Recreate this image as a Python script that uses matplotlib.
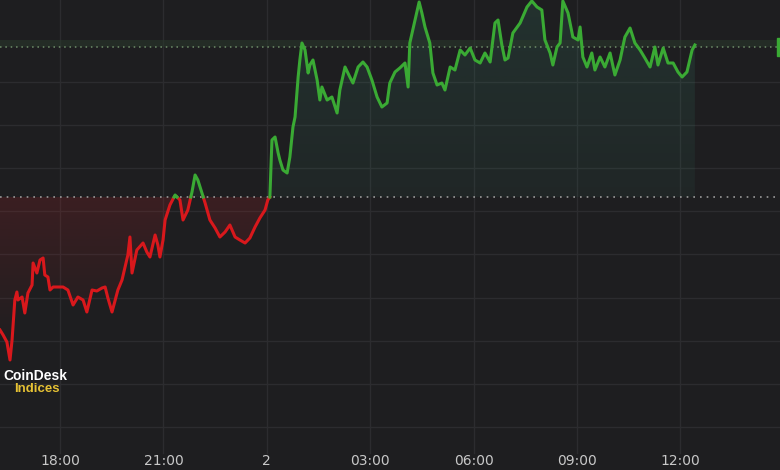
import numpy as np
import matplotlib
matplotlib.use("Agg")
import matplotlib.pyplot as plt
from matplotlib.path import Path
from matplotlib.colors import to_rgb
from matplotlib.patches import Rectangle
import matplotlib.transforms as mtransforms

# hours after 18:00 on day 1, and % change against the open
hours = [
    -1.74, -1.65, -1.54, -1.45, -1.39, -1.31, -1.25, -1.22, -1.10, -1.02,
    -0.93, -0.81, -0.78, -0.67, -0.58, -0.49, -0.44, -0.35, -0.29, -0.20,
    -0.15, 0.00, 0.09, 0.23, 0.38, 0.52, 0.67, 0.78, 0.93, 1.07,
    1.22, 1.31, 1.39, 1.51, 1.68, 1.80, 1.89, 1.97, 2.03, 2.09,
    2.23, 2.41, 2.52, 2.61, 2.76, 2.84, 2.90, 2.99, 3.05, 3.19,
    3.34, 3.48, 3.57, 3.71, 3.83, 3.92, 4.00, 4.12, 4.21, 4.35,
    4.50, 4.64, 4.79, 4.93, 5.08, 5.22, 5.37, 5.51, 5.66, 5.80,
    5.95, 6.03, 6.09, 6.15, 6.24, 6.33, 6.38, 6.47, 6.59, 6.67,
    6.76, 6.82, 6.91, 6.96, 7.02, 7.11, 7.20, 7.25, 7.34, 7.46,
    7.54, 7.60, 7.75, 7.89, 8.04, 8.12, 8.27, 8.41, 8.50, 8.65,
    8.79, 8.91, 9.05, 9.20, 9.34, 9.49, 9.57, 9.72, 9.86, 10.01,
    10.10, 10.15, 10.30, 10.42, 10.50, 10.59, 10.73, 10.82, 10.94, 11.08,
    11.17, 11.32, 11.46, 11.61, 11.75, 11.90, 12.04, 12.19, 12.33, 12.48,
    12.62, 12.71, 12.82, 12.91, 13.00, 13.14, 13.35, 13.55, 13.69, 13.84,
    13.98, 14.07, 14.22, 14.30, 14.42, 14.51, 14.59, 14.74, 14.88, 15.03,
    15.09, 15.17, 15.29, 15.43, 15.52, 15.67, 15.81, 15.96, 16.10, 16.25,
    16.39, 16.54, 16.68, 16.83, 16.97, 17.12, 17.26, 17.35, 17.50, 17.64,
    17.79, 17.93, 18.05, 18.19, 18.34, 18.42,
]
change = [
    -1.33, -1.38, -1.45, -1.63, -1.43, -1.03, -0.95, -1.03, -1.00, -1.16,
    -0.96, -0.88, -0.66, -0.76, -0.63, -0.61, -0.78, -0.80, -0.93, -0.90,
    -0.90, -0.90, -0.90, -0.93, -1.08, -1.00, -1.03, -1.15, -0.93, -0.94,
    -0.91, -0.90, -1.01, -1.15, -0.93, -0.83, -0.70, -0.58, -0.40, -0.76,
    -0.53, -0.46, -0.55, -0.60, -0.38, -0.48, -0.60, -0.43, -0.23, -0.08,
    0.02, -0.03, -0.23, -0.13, 0.05, 0.22, 0.17, 0.04, -0.06, -0.23,
    -0.31, -0.40, -0.35, -0.28, -0.40, -0.43, -0.46, -0.41, -0.30, -0.21,
    -0.13, -0.03, 0.00, 0.57, 0.60, 0.44, 0.37, 0.27, 0.24, 0.40,
    0.70, 0.80, 1.20, 1.37, 1.54, 1.47, 1.24, 1.32, 1.37, 1.17,
    0.97, 1.10, 0.97, 1.00, 0.84, 1.07, 1.30, 1.20, 1.14, 1.30,
    1.35, 1.30, 1.17, 1.00, 0.90, 0.94, 1.14, 1.25, 1.29, 1.34,
    1.10, 1.54, 1.77, 1.95, 1.84, 1.70, 1.54, 1.24, 1.12, 1.14,
    1.07, 1.30, 1.27, 1.47, 1.42, 1.49, 1.37, 1.34, 1.44, 1.35,
    1.74, 1.77, 1.52, 1.37, 1.39, 1.64, 1.74, 1.90, 1.96, 1.90,
    1.87, 1.57, 1.44, 1.32, 1.50, 1.54, 1.96, 1.84, 1.60, 1.57,
    1.70, 1.40, 1.30, 1.44, 1.27, 1.40, 1.30, 1.44, 1.22, 1.37,
    1.60, 1.69, 1.54, 1.47, 1.39, 1.30, 1.50, 1.32, 1.49, 1.34,
    1.34, 1.25, 1.20, 1.25, 1.47, 1.52,
]
tick_hours = [0, 3, 6, 9, 12, 15, 18]
tick_labels = ["18:00", "21:00", "2", "03:00", "06:00", "09:00", "12:00"]
last_change = 1.50

bg = "#1e1e20"
grid_col = "#2c2c2f"
green = "#3aaa34"
red = "#d8181c"


def split_at_zero(x, y):
    xs, ys = [x[0]], [y[0]]
    for i in range(1, len(x)):
        a, b = y[i - 1], y[i]
        if (a < 0 < b) or (a > 0 > b):
            t = a / (a - b)
            xs.append(x[i - 1] + t * (x[i] - x[i - 1]))
            ys.append(0.0)
        xs.append(x[i])
        ys.append(b)
    return np.array(xs), np.array(ys)


def gradient_fill(ax, x, y, where, color, a_low, a_high, y_low, y_high):
    poly = ax.fill_between(x, y, 0, where=where, interpolate=True,
                           facecolor="none", edgecolor="none")
    paths = poly.get_paths()
    if not paths:
        return
    clip = Path.make_compound_path(*paths)
    grad = np.zeros((256, 1, 4))
    grad[..., :3] = to_rgb(color)
    grad[:, 0, 3] = np.linspace(a_low, a_high, 256)
    im = ax.imshow(grad, extent=[x.min(), x.max(), y_low, y_high],
                   origin="lower", aspect="auto", zorder=1)
    im.set_clip_path(clip, transform=ax.transData)


fig = plt.figure(figsize=(7.8, 4.7), dpi=100, facecolor=bg)
ax = fig.add_axes([0, 0, 1, 1])
ax.set_facecolor(bg)
for s in ax.spines.values():
    s.set_visible(False)
ax.set_xticks([])
ax.set_yticks([])

xmin, xmax = -1.74, 20.89
ymin, ymax = -2.73, 1.97

# grid
for gy in np.arange(1.15, -2.4, -0.431):
    ax.axhline(gy, color=grid_col, lw=1, zorder=0)
for hx in tick_hours:
    ax.axvline(hx, ymin=0.036, ymax=1, color=grid_col, lw=1, zorder=0)

x, y = split_at_zero(np.array(hours), np.array(change))

gradient_fill(ax, x, y, y >= 0, "#3f9c80", 0.07, 0.16, 0, y.max())
gradient_fill(ax, x, y, y <= 0, "#c02028", 0.0, 0.18, y.min(), 0)

ax.plot(x, np.where(y <= 0, y, np.nan), color=red, lw=2.2, zorder=3,
        solid_joinstyle="round")
ax.plot(x, np.where(y >= 0, y, np.nan), color=green, lw=2.2, zorder=3,
        solid_joinstyle="round")

# open and last-price reference lines
ax.axhline(0, color="#9a9a9a", lw=1.2, ls=(0, (1, 3)), zorder=2)
ax.axhspan(last_change, last_change + 0.07, color="#2a3a2c", alpha=0.5, lw=0, zorder=1)
ax.axhline(last_change, color="#6f8f6a", lw=1.1, ls=(0, (1, 2.5)), zorder=2)

trans = mtransforms.blended_transform_factory(ax.transAxes, ax.transData)
ax.add_patch(Rectangle((0.996, last_change - 0.09), 0.01, 0.18, transform=trans,
                       color=green, zorder=4, clip_on=False))

# time labels
tlab = mtransforms.blended_transform_factory(ax.transData, ax.transAxes)
for hx, lab in zip(tick_hours, tick_labels):
    ax.text(hx, 0.004, lab, transform=tlab, ha="center", va="bottom",
            color="#c8c8c8", fontsize=10)

# logo
ax.text(3 / 780, 1 - 380 / 470, "CoinDesk", transform=ax.transAxes, ha="left",
        va="baseline", color="white", fontsize=10, fontweight="bold",
        family="Liberation Sans")
ax.text(60 / 780, 1 - 392 / 470, "Indices", transform=ax.transAxes, ha="right",
        va="baseline", color="#e6c234", fontsize=9.5, fontweight="bold",
        family="Liberation Sans")

ax.set_xlim(xmin, xmax)
ax.set_ylim(ymin, ymax)

fig.savefig("out.png", dpi=100, facecolor=bg)
